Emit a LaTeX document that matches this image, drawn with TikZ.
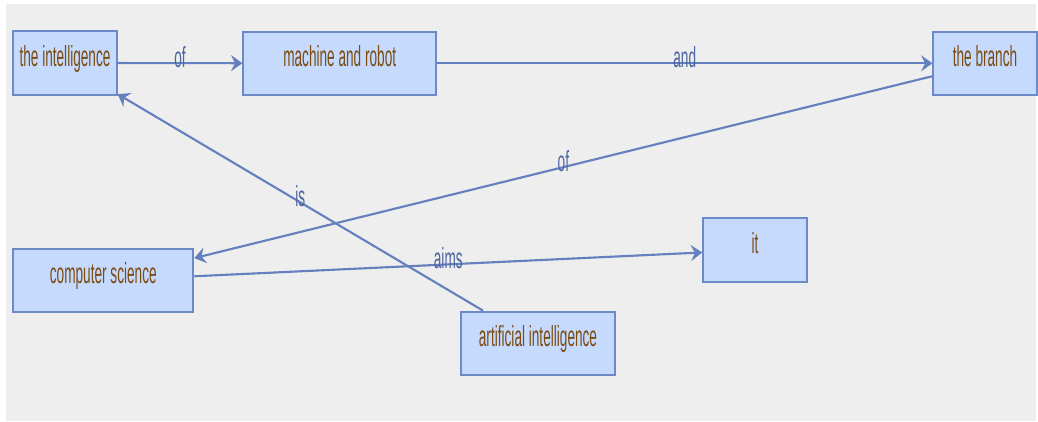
\documentclass[tikz,border=0pt]{standalone}
\usepackage{fontspec}
\setmainfont{Liberation Sans}
\usetikzlibrary{arrows.meta}

\definecolor{bggray}{RGB}{238,238,238}
\definecolor{boxfill}{RGB}{198,218,254}
\definecolor{boxline}{RGB}{108,138,200}
\definecolor{edgeblue}{RGB}{100,128,190}
\definecolor{termbrown}{RGB}{122,76,18}
\definecolor{lblblue}{RGB}{78,102,160}

% condensed lettering
\newcommand{\narrow}[1]{\scalebox{0.47}[1]{#1}}

\tikzset{
  term/.style={draw=boxline, fill=boxfill, line width=1.5pt, inner sep=0pt,
    text=termbrown, font=\fontsize{21.75}{24}\selectfont,
    text height=12pt, text depth=7pt},
  rel/.style={draw=edgeblue, line width=1.6pt,
    -{Stealth[length=8.5pt,width=12pt,inset=3pt]}},
  rellabel/.style={midway, inner sep=0pt, yshift=4.5pt, text=lblblue,
    font=\fontsize{21.75}{24}\selectfont}
}

\begin{document}
\begin{tikzpicture}[x=0.75pt, y=-0.75pt]
    \useasboundingbox (0,0) rectangle (1038,421);
    % Background
    \fill[bggray] (6,4) rectangle (1036,421);

    % Top row
    \node[term, minimum width=77.6pt, minimum height=48pt] (intel) at (65,63) {\narrow{the intelligence}};
    \node[term, minimum width=144.5pt, minimum height=47.5pt] (machine) at (339.7,63.3) {\narrow{machine and robot}};
    \node[term, minimum width=77.3pt, minimum height=47.5pt] (branch) at (985,63.3) {\narrow{the branch}};

    % Lower rows
    \node[term, minimum width=135pt, minimum height=46.8pt] (cs) at (103.3,280.5) {\narrow{computer science}};
    \node[term, minimum width=77.6pt, minimum height=47.5pt] (it) at (755,250) {\narrow{it}};
    \node[term, minimum width=115.5pt, minimum height=47.5pt] (ai) at (538,343.3) {\narrow{artificial intelligence}};

    % Relations
    \draw[rel] (intel) -- node[rellabel] {\narrow{of}} (machine);
    \draw[rel] (machine) -- node[rellabel] {\narrow{and}} (branch);
    \draw[rel] (branch) -- node[rellabel] {\narrow{of}} (cs);
    \draw[rel] (cs) -- node[rellabel] {\narrow{aims}} (it);
    \draw[rel] (ai) -- node[rellabel] {\narrow{is}} (intel);

\end{tikzpicture}
\end{document}
